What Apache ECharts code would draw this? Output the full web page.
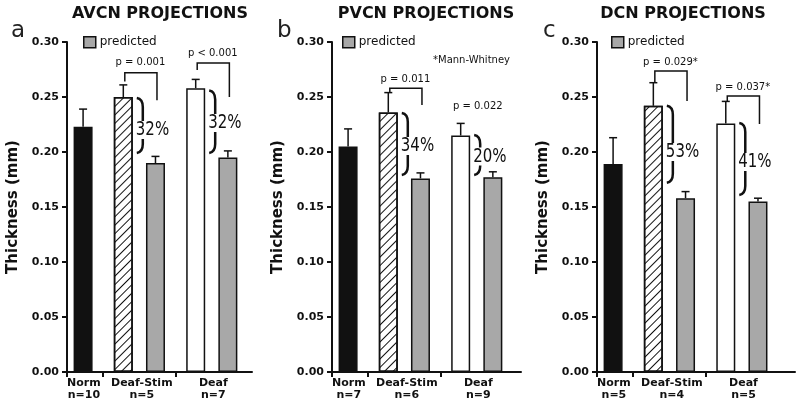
<!DOCTYPE html>
<html>
<head>
<meta charset="utf-8">
<script src="https://cdn.jsdelivr.net/npm/echarts@6/dist/echarts.min.js"></script>
<style>
html, body { margin: 0; padding: 0; background: #fff; }
#chart { width: 800px; height: 408px; }
</style>
</head>
<body>
<div id="chart"></div>
<script>
// groups on every panel
const groups = ['Norm', 'Deaf-Stim', 'Deaf'];

// a - AVCN projections
const avcnN = ['n=10', 'n=5', 'n=7'];
const avcnMeasured = [0.223, 0.250, 0.258];
const avcnMeasuredErr = [0.016, 0.011, 0.008];
const avcnPredicted = [0.190, 0.195];          // Deaf-Stim, Deaf
const avcnPredictedErr = [0.006, 0.006];
const avcnP = ['p = 0.001', 'p < 0.001'];
const avcnPY = [0.281, 0.290];
const avcnBracket = [[0.272, 0.264, 0.247], [0.281, 0.2745, 0.250]];  // top, left end, right end
const avcnPct = ['32%', '32%'];
const avcnBrace = [[0.249, 0.199, 0.220], [0.256, 0.199, 0.2264]];    // top, bottom, label

// b - PVCN projections
const pvcnN = ['n=7', 'n=6', 'n=9'];
const pvcnMeasured = [0.205, 0.236, 0.215];
const pvcnMeasuredErr = [0.016, 0.018, 0.011];
const pvcnPredicted = [0.176, 0.177];
const pvcnPredictedErr = [0.005, 0.005];
const pvcnP = ['p = 0.011', 'p = 0.022'];
const pvcnPY = [0.2664, 0.241];
const pvcnBracket = [[0.258, 0.2536, 0.2427], null];
const pvcnPct = ['34%', '20%'];
const pvcnBrace = [[0.2355, 0.179, 0.2055], [0.2155, 0.179, 0.196]];

// c - DCN projections
const dcnN = ['n=5', 'n=4', 'n=5'];
const dcnMeasured = [0.189, 0.242, 0.226];
const dcnMeasuredErr = [0.024, 0.021, 0.020];
const dcnPredicted = [0.158, 0.155];
const dcnPredictedErr = [0.006, 0.003];
const dcnP = ['p = 0.029*', 'p = 0.037*'];
const dcnPY = [0.281, 0.259];
const dcnBracket = [[0.2736, 0.2636, 0.2464], [0.251, 0.246, 0.2255]];
const dcnPct = ['53%', '41%'];
const dcnBrace = [[0.242, 0.172, 0.200], [0.2264, 0.161, 0.191]];

// slot positions along each x axis
const measuredX = [2, 7, 16];
const predictedX = [11, 20];
const groupLabelX = [2.1, 9.3, 18.2];
const groupTickX = [0, 4.5, 13.5];

const panels = [
  { title: 'AVCN PROJECTIONS', letter: 'a', n: avcnN, m: avcnMeasured, me: avcnMeasuredErr, p: avcnPredicted, pe: avcnPredictedErr,
    pText: avcnP, pY: avcnPY, bracket: avcnBracket, pct: avcnPct, brace: avcnBrace,
    left: 67, width: 185, xMax: 23, titleX: 160, letterX: 11, legendX: 83 },
  { title: 'PVCN PROJECTIONS', letter: 'b', n: pvcnN, m: pvcnMeasured, me: pvcnMeasuredErr, p: pvcnPredicted, pe: pvcnPredictedErr,
    pText: pvcnP, pY: pvcnPY, bracket: pvcnBracket, pct: pvcnPct, brace: pvcnBrace,
    left: 332, width: 189, xMax: 23.5, titleX: 426, letterX: 277, legendX: 342 },
  { title: 'DCN PROJECTIONS', letter: 'c', n: dcnN, m: dcnMeasured, me: dcnMeasuredErr, p: dcnPredicted, pe: dcnPredictedErr,
    pText: dcnP, pY: dcnPY, bracket: dcnBracket, pct: dcnPct, brace: dcnBrace,
    left: 597, width: 198, xMax: 24.6, titleX: 683, letterX: 543, legendX: 611 }
];

const FONT = '"DejaVu Sans", "Liberation Sans", sans-serif';
const INK = '#111';
const GRAY = '#a8a8a8';
const BAR_W = 19;

var myChart = echarts.init(document.getElementById('chart'));

const grid = [], xAxis = [], yAxis = [], series = [], legend = [], graphic = [];

panels.forEach(function (pn, k) {
  grid.push({ left: pn.left, width: pn.width, top: 42, height: 330 });

  xAxis.push({
    type: 'value', gridIndex: k, min: 0, max: pn.xMax,
    splitLine: { show: false },
    axisLine: { lineStyle: { color: INK, width: 2 } },
    axisTick: { customValues: groupTickX, length: 5, lineStyle: { color: INK, width: 2 } },
    axisLabel: {
      customValues: groupLabelX, margin: 5, color: INK,
      fontFamily: FONT, fontWeight: 'bold', fontSize: 11, lineHeight: 12,
      formatter: function (v) {
        const i = groupLabelX.indexOf(v);
        return i < 0 ? '' : groups[i] + '\n' + pn.n[i];
      }
    }
  });

  yAxis.push({
    type: 'value', gridIndex: k, min: 0, max: 0.30, interval: 0.05,
    name: 'Thickness (mm)', nameLocation: 'middle', nameGap: 46,
    nameTextStyle: { fontFamily: FONT, fontWeight: 'bold', fontSize: 15, color: INK },
    splitLine: { show: false },
    axisLine: { show: true, lineStyle: { color: INK, width: 2 } },
    axisTick: { show: true, length: 5, lineStyle: { color: INK, width: 2 } },
    axisLabel: { margin: 8, color: INK, fontFamily: FONT, fontWeight: 'bold', fontSize: 11,
      formatter: function (v) { return v.toFixed(2); } }
  });

  // measured bars: black (Norm), hatched (Deaf-Stim), white (Deaf)
  const styles = [
    { color: INK },
    { color: '#fff', decal: { symbol: 'rect', symbolSize: 1, color: INK, dashArrayX: [1, 0], dashArrayY: [1, 5], rotation: -Math.PI / 4 } },
    { color: '#fff' }
  ];
  series.push({
    type: 'bar', name: 'measured', xAxisIndex: k, yAxisIndex: k,
    barWidth: BAR_W, barGap: '-100%',
    itemStyle: { borderColor: INK, borderWidth: 1.5 },
    data: pn.m.map(function (v, i) { return { value: [measuredX[i], v], itemStyle: styles[i] }; })
  });
  series.push({
    type: 'bar', name: 'predicted', xAxisIndex: k, yAxisIndex: k,
    barWidth: BAR_W, barGap: '-100%',
    itemStyle: { color: GRAY, borderColor: INK, borderWidth: 1.5 },
    data: pn.p.map(function (v, i) { return [predictedX[i], v]; })
  });

  // error bars (upper only)
  const errData = pn.m.map(function (v, i) { return [measuredX[i], v, pn.me[i]]; })
    .concat(pn.p.map(function (v, i) { return [predictedX[i], v, pn.pe[i]]; }));
  series.push({
    type: 'custom', name: 'err', xAxisIndex: k, yAxisIndex: k, silent: true,
    data: errData,
    renderItem: function (params, api) {
      const x = api.value(0), v = api.value(1), e = api.value(2);
      const a = api.coord([x, v]), b = api.coord([x, v + e]);
      const st = { stroke: INK, lineWidth: 1.5 };
      return { type: 'group', children: [
        { type: 'line', shape: { x1: a[0], y1: a[1], x2: b[0], y2: b[1] }, style: st },
        { type: 'line', shape: { x1: b[0] - 4, y1: b[1], x2: b[0] + 4, y2: b[1] }, style: st }
      ] };
    }
  });

  // p-value brackets, braces and percentages
  series.push({
    type: 'custom', name: 'notes', xAxisIndex: k, yAxisIndex: k, silent: true,
    data: [[measuredX[1], pn.pY[0]], [measuredX[2], pn.pY[1]]],
    renderItem: function (params, api) {
      const i = params.dataIndex;
      const mx = measuredX[i + 1], px = predictedX[i];
      const kids = [];
      const xm = api.coord([mx, 0])[0], xp = api.coord([px, 0])[0];
      const yOf = function (v) { return api.coord([0, v])[1]; };

      kids.push({ type: 'text', x: (xm + xp) / 2 + 1, y: yOf(pn.pY[i]),
        style: { text: pn.pText[i], font: '10px ' + FONT, fill: INK, align: 'center', verticalAlign: 'middle' } });

      const br = pn.bracket[i];
      if (br) {
        kids.push({ type: 'polyline',
          shape: { points: [[xm + 1.5, yOf(br[1])], [xm + 1.5, yOf(br[0])], [xp + 1.5, yOf(br[0])], [xp + 1.5, yOf(br[2])]] },
          style: { stroke: INK, lineWidth: 1.5, fill: null } });
      }

      const bc = pn.brace[i];
      const xb = xm + BAR_W / 2 + 4;
      const yt = yOf(bc[0]), yb = yOf(bc[1]), ym = yOf(bc[2]);
      const d = 'M' + xb + ' ' + yt + ' Q' + (xb + 6) + ' ' + (yt + 1) + ' ' + (xb + 6) + ' ' + (yt + 9) +
        ' L' + (xb + 6) + ' ' + (ym - 9) +
        ' M' + (xb + 6) + ' ' + (ym + 9) + ' L' + (xb + 6) + ' ' + (yb - 9) +
        ' Q' + (xb + 6) + ' ' + (yb - 1) + ' ' + xb + ' ' + yb;
      kids.push({ type: 'path', shape: { pathData: d }, style: { stroke: INK, lineWidth: 2.5, fill: null } });

      kids.push({ type: 'text', x: xb - 1, y: ym, scaleX: 0.75,
        style: { text: pn.pct[i], font: '20px ' + FONT, fill: INK, align: 'left', verticalAlign: 'middle' } });
      return { type: 'group', children: kids };
    }
  });

  legend.push({
    data: ['predicted'], left: pn.legendX, top: 36, padding: 0,
    itemWidth: 12, itemHeight: 11, icon: 'rect', selectedMode: false,
    itemStyle: { color: GRAY, borderColor: INK, borderWidth: 1.5 },
    textStyle: { fontFamily: FONT, fontSize: 12, color: INK, padding: [0, 0, 0, -1] }
  });

  graphic.push({ type: 'text', x: pn.titleX, y: 14,
    style: { text: pn.title, font: 'bold 16px ' + FONT, fill: INK, align: 'center', verticalAlign: 'middle' } });
  graphic.push({ type: 'text', x: pn.letterX, y: 31,
    style: { text: pn.letter, font: '23px ' + FONT, fill: '#222', align: 'left', verticalAlign: 'middle' } });
});

graphic.push({ type: 'text', x: 433, y: 60,
  style: { text: '*Mann-Whitney', font: '10px ' + FONT, fill: INK, align: 'left', verticalAlign: 'middle' } });

const option = {
  animation: false,
  backgroundColor: '#fff',
  grid: grid,
  xAxis: xAxis,
  yAxis: yAxis,
  legend: legend,
  graphic: graphic,
  series: series
};

myChart.setOption(option);
</script>
</body>
</html>
